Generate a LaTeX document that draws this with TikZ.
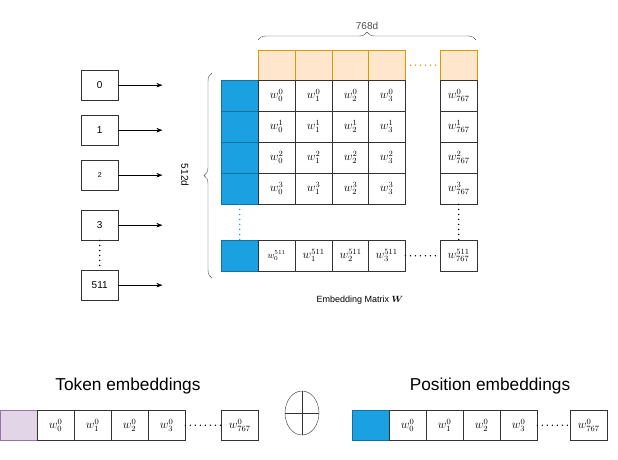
\documentclass[tikz,border=0pt]{standalone}
\usepackage{amsmath,amssymb}
\usepackage{fontspec}
\setmainfont{Liberation Sans}
\usetikzlibrary{arrows.meta, positioning, calc, decorations.pathreplacing}
\definecolor{embBlue}{HTML}{1BA1E2}
\definecolor{embOrange}{HTML}{FFE6CC}
\definecolor{embOrangeLine}{HTML}{D79B00}
\definecolor{embPurple}{HTML}{E1D5E7}
\definecolor{embPurpleLine}{HTML}{9673A6}
\tikzset{
  cell/.style={draw=black!80, fill=white, minimum width=37pt, minimum height=31pt, inner sep=0pt, anchor=north west, font=\large},
  head/.style={cell, draw=embOrangeLine, fill=embOrange, minimum height=30pt},
  idx/.style={cell, minimum height=30pt},
  bluecell/.style={cell, draw=embBlue!70!black, fill=embBlue},
  tok/.style={-{Stealth[length=6pt]}, black},
  dots/.style={line width=1.6pt, dash pattern=on 0pt off 5pt, line cap=round}
}
\begin{document}
\begin{tikzpicture}[x=1pt, y=-1pt]
\useasboundingbox (0,0) rectangle (618,459);

% header row
\foreach \i/\x in {0/258,1/295,2/332,3/368,767/440}
  \node[head] (h\i) at (\x,50) {};
\draw[embOrangeLine, dots] (h3.east) -- (h767.west);

% matrix
\foreach \r/\y in {0/80,1/111,2/142,3/173} {
  \node[bluecell] (b\r) at (221,\y) {};
  \foreach \i/\x in {0/258,1/295,2/332,3/368,767/440}
    \node[cell] (m\r\i) at (\x,\y) {$w_{\i}^{\r}$};
}
\node[bluecell] (b511) at (221,240) {};
\node[cell, font=\small] (m5110) at (258,240) {$w_0^{511}$};
\foreach \i/\x in {1/295,2/332,3/368,767/440}
  \node[cell] (m511\i) at (\x,240) {$w_{\i}^{511}$};
\draw[embBlue, dots] (b3.south) -- (b511.north);
\draw[black, dots] (m3767.south) -- (m511767.north);
\draw[black, dots] (m5113.east) -- (m511767.west);

% braces
\draw[decorate, decoration={brace, amplitude=8pt}, black!70] (258,40) -- (476,40)
  node[midway, above=7pt, font=\normalsize] (wd) {768d};
\draw[decorate, decoration={brace, amplitude=8pt}, black!70] (212,278) -- (212,73);
\node[font=\normalsize, rotate=-90] (ht) at (185,175) {512d};
\node[font=\small] (cap) at (360,300) {Embedding Matrix $\boldsymbol{W}$};

% tokens
\foreach \t/\y/\f in {0/70/\normalsize, 1/115/\normalsize, 2/160/\scriptsize, 3/210/\normalsize, 511/270/\normalsize} {
  \node[idx, font=\f] (t\t) at (81,\y) {\t};
  \coordinate (e\t) at ($(t\t.east)+(44,0)$);
  \draw[tok] (t\t) -- (e\t);
}
\draw[dots] (t3.south) -- (t511.north);

% token embeddings
\node[font=\LARGE] (tl) at (128,386) {Token embeddings};
\node[cell, draw=embPurpleLine, fill=embPurple, minimum height=30pt] (tp) at (0,410) {};
\foreach \i/\x in {0/37,1/74,2/111,3/148,767/221}
  \node[cell, minimum height=30pt] (te\i) at (\x,410) {$w_{\i}^{0}$};
\draw[dots] (te3.east) -- (te767.west);

% plus
\draw[black!80] (302,413) ellipse (17pt and 22pt);
\draw[black!80] (285,413) -- (319,413) (302,391) -- (302,435);

% position embeddings
\node[font=\LARGE] (pl) at (490,386) {Position embeddings};
\node[bluecell, minimum height=30pt] (pb) at (352,410) {};
\foreach \i/\x in {0/389,1/426,2/463,3/500,767/570}
  \node[cell, minimum height=30pt] (pe\i) at (\x,410) {$w_{\i}^{0}$};
\draw[dots] (pe3.east) -- (pe767.west);
\end{tikzpicture}
\end{document}
